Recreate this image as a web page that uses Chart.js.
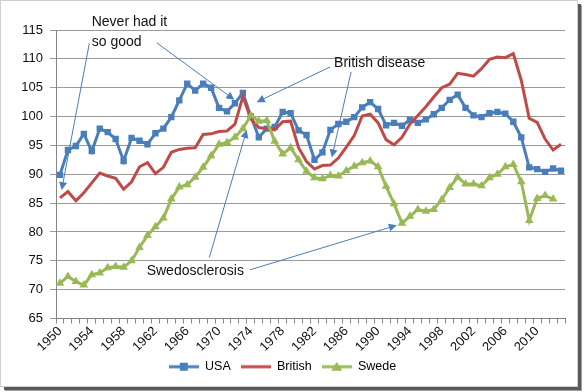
<!DOCTYPE html>
<html>
<head>
<meta charset="utf-8">
<script src="https://cdn.jsdelivr.net/npm/chart.js@4.4.1/dist/chart.umd.min.js"></script>
<style>
  html, body { margin: 0; padding: 0; background: #fff; }
  #wrap { width: 586px; height: 392px; }
</style>
</head>
<body>
<div id="wrap"><canvas id="growthChart" width="586" height="392"></canvas></div>
<script>
// years on the category axis
const years = [];
for (let y = 1950; y <= 2013; y++) years.push(String(y));
const tickYears = ['1950', '1954', '1958', '1962', '1966', '1970', '1974', '1978',
                   '1982', '1986', '1990', '1994', '1998', '2002', '2006', '2010'];

const usa = [
    89.9, 94.2, 94.9, 97.0, 94.0, 97.9, 97.3, 96.1, 92.3, 96.3,
    95.8, 95.2, 97.1, 97.9, 99.9, 102.8, 105.7, 104.5, 105.7, 105.0,
    101.5, 100.9, 102.3, 104.1, 100.0, 96.4, 97.9, 98.2, 100.8, 100.6,
    97.6, 96.8, 92.5, 93.8, 97.7, 98.7, 99.1, 99.9, 101.6, 102.5,
    101.3, 98.5, 98.9, 98.4, 99.4, 98.9, 99.5, 100.4, 101.5, 102.9,
    103.8, 101.5, 100.2, 99.9, 100.6, 100.8, 100.5, 99.1, 96.4, 91.2,
    90.9, 90.4, 91.0, 90.6
];
const british = [
    85.9, 87.0, 85.4, 86.8, 88.5, 90.2, 89.7, 89.3, 87.4, 88.7,
    91.3, 92.0, 90.1, 91.2, 93.8, 94.3, 94.5, 94.6, 96.9, 97.0,
    97.4, 97.5, 98.7, 103.5, 99.6, 98.1, 97.9, 97.7, 99.1, 99.2,
    94.6, 92.2, 90.9, 91.5, 91.6, 92.8, 94.7, 96.7, 100.1, 100.4,
    98.9, 96.0, 95.1, 96.4, 98.7, 100.2, 101.7, 103.4, 105.0, 105.6,
    107.5, 107.3, 107.0, 108.3, 109.9, 110.3, 110.2, 110.9, 106.3, 99.7,
    99.0, 96.1, 94.2, 95.2
];
const swede = [
    71.1, 72.3, 71.4, 70.8, 72.6, 72.9, 73.8, 74.0, 73.9, 75.0,
    77.3, 79.4, 80.9, 82.4, 85.7, 87.8, 88.2, 89.5, 91.2, 93.2,
    95.2, 95.5, 96.4, 97.9, 100.2, 99.2, 99.3, 95.7, 93.5, 94.6,
    92.5, 90.5, 89.4, 89.2, 89.8, 89.7, 90.6, 91.4, 92.0, 92.3,
    91.3, 87.9, 84.9, 81.5, 82.7, 83.9, 83.6, 83.9, 85.6, 87.7,
    89.5, 88.3, 88.3, 88.0, 89.4, 90.0, 91.3, 91.7, 88.7, 82.0,
    85.8, 86.3, 85.7, null
];

// callouts: text at [category index, value], arrows from -> to
const notes = [
    { text: 'Never had it', at: [3.99, 116.4] },
    { text: 'so good', at: [3.99, 112.96] },
    { text: 'British disease', at: [34.47, 109.19] },
    { text: 'Swedosclerosis', at: [10.9, 73.14] }
];
const arrows = [
    { from: [3.69, 112.68], to: [0.21, 87.27] },
    { from: [12.16, 112.79], to: [21.92, 102.91] },
    { from: [33.96, 108.6], to: [24.74, 102.5] },
    { from: [36.6, 107.73], to: [34.18, 92.9] },
    { from: [18.78, 75.59], to: [23.48, 97.68] },
    { from: [23.9, 73.44], to: [42.35, 81.17] }
];

const BLUE = '#4A7EBB';
const RED = '#BE4B48';
const GREEN = '#98B954';
const FONT = '"Liberation Sans", Arial, sans-serif';

function legendIcon(color, shape) {
    const c = document.createElement('canvas');
    c.width = 30; c.height = 12;
    const g = c.getContext('2d');
    g.strokeStyle = color;
    g.lineWidth = 3;
    g.beginPath(); g.moveTo(0, 6); g.lineTo(30, 6); g.stroke();
    g.fillStyle = color;
    if (shape === 'rect') g.fillRect(11, 2, 8, 8);
    if (shape === 'triangle') {
        g.beginPath(); g.moveTo(15, 1); g.lineTo(20.5, 10); g.lineTo(9.5, 10); g.closePath(); g.fill();
    }
    return c;
}

const frame = {
    id: 'frame',
    beforeDraw(chart) {
        const ctx = chart.ctx;
        ctx.save();
        ctx.fillStyle = '#fff';
        ctx.fillRect(0, 0, chart.width, chart.height);
        ctx.restore();
    },
    afterDraw(chart) {
        const ctx = chart.ctx;
        ctx.save();
        ctx.strokeStyle = '#d0d0d0';
        ctx.lineWidth = 1;
        ctx.strokeRect(0.5, 0.5, 577, 386);
        ctx.fillStyle = '#5a5a5a';
        ctx.fillRect(578, 4, 3, 386);
        ctx.fillRect(4, 387, 577, 3);
        ctx.fillStyle = '#a0a0a0';
        ctx.fillRect(581, 5, 1, 386);
        ctx.fillRect(5, 390, 577, 1);
        ctx.restore();
    }
};

const callouts = {
    id: 'callouts',
    afterDatasetsDraw(chart) {
        const ctx = chart.ctx;
        const sx = chart.scales.x, sy = chart.scales.y;
        const px = p => [sx.getPixelForValue(p[0]), sy.getPixelForValue(p[1])];
        ctx.save();
        ctx.strokeStyle = BLUE;
        ctx.fillStyle = BLUE;
        ctx.lineWidth = 1;
        arrows.forEach(a => {
            const [x1, y1] = px(a.from);
            const [x2, y2] = px(a.to);
            const ang = Math.atan2(y2 - y1, x2 - x1);
            ctx.beginPath();
            ctx.moveTo(x1, y1);
            ctx.lineTo(x2 - 6 * Math.cos(ang), y2 - 6 * Math.sin(ang));
            ctx.stroke();
            ctx.beginPath();
            ctx.moveTo(x2, y2);
            ctx.lineTo(x2 - 8 * Math.cos(ang) + 4 * Math.sin(ang), y2 - 8 * Math.sin(ang) - 4 * Math.cos(ang));
            ctx.lineTo(x2 - 8 * Math.cos(ang) - 4 * Math.sin(ang), y2 - 8 * Math.sin(ang) + 4 * Math.cos(ang));
            ctx.closePath();
            ctx.fill();
        });
        ctx.fillStyle = '#111';
        ctx.font = '14px ' + FONT;
        ctx.textAlign = 'left';
        ctx.textBaseline = 'middle';
        notes.forEach(n => {
            const [x, y] = px(n.at);
            ctx.fillText(n.text, x, y);
        });
        ctx.restore();
    }
};

const icons = [legendIcon(BLUE, 'rect'), legendIcon(RED, 'none'), legendIcon(GREEN, 'triangle')];

new Chart(document.getElementById('growthChart').getContext('2d'), {
    type: 'line',
    data: {
        labels: years,
        datasets: [
            {
                label: 'USA',
                data: usa,
                borderColor: BLUE,
                backgroundColor: BLUE,
                borderWidth: 3,
                pointStyle: 'rect',
                pointRadius: 4.5,
                pointBorderWidth: 0,
                order: 3
            },
            {
                label: 'British',
                data: british,
                borderColor: RED,
                backgroundColor: RED,
                borderWidth: 3,
                pointRadius: 0,
                order: 2
            },
            {
                label: 'Swede',
                data: swede,
                borderColor: GREEN,
                backgroundColor: GREEN,
                borderWidth: 3,
                pointStyle: 'triangle',
                pointRadius: 5,
                pointBorderWidth: 0,
                order: 1
            }
        ]
    },
    options: {
        responsive: false,
        animation: false,
        devicePixelRatio: 1,
        layout: { padding: { top: 30, right: 21, left: 0, bottom: 9 } },
        scales: {
            x: {
                offset: true,
                grid: { drawOnChartArea: false, drawTicks: true, tickLength: 5, color: '#868686', offset: true },
                border: { color: '#868686' },
                ticks: {
                    autoSkip: false,
                    maxRotation: 45,
                    minRotation: 45,
                    padding: 0,
                    color: '#111',
                    font: { family: FONT, size: 13 },
                    callback: function(v, i) {
                        return tickYears.includes(years[i]) ? years[i] : '';
                    }
                },
                afterFit: s => { s.height = 32; }
            },
            y: {
                min: 65,
                max: 115,
                grid: { color: '#9a9a9a', tickLength: 6 },
                border: { color: '#868686' },
                ticks: {
                    stepSize: 5,
                    padding: 7,
                    color: '#111',
                    font: { family: FONT, size: 13 }
                },
                afterFit: s => { s.width = 56; }
            }
        },
        plugins: {
            tooltip: { enabled: false },
            legend: {
                position: 'bottom',
                labels: {
                    usePointStyle: true,
                    pointStyleWidth: 30,
                    padding: 10,
                    color: '#111',
                    font: { family: FONT, size: 12.5 },
                    generateLabels: chart => chart.data.datasets.map((ds, i) => ({
                        text: ds.label,
                        fillStyle: ds.borderColor,
                        strokeStyle: ds.borderColor,
                        lineWidth: 0,
                        pointStyle: icons[i],
                        hidden: false,
                        datasetIndex: i
                    }))
                }
            }
        }
    },
    plugins: [frame, callouts]
});
</script>
</body>
</html>
